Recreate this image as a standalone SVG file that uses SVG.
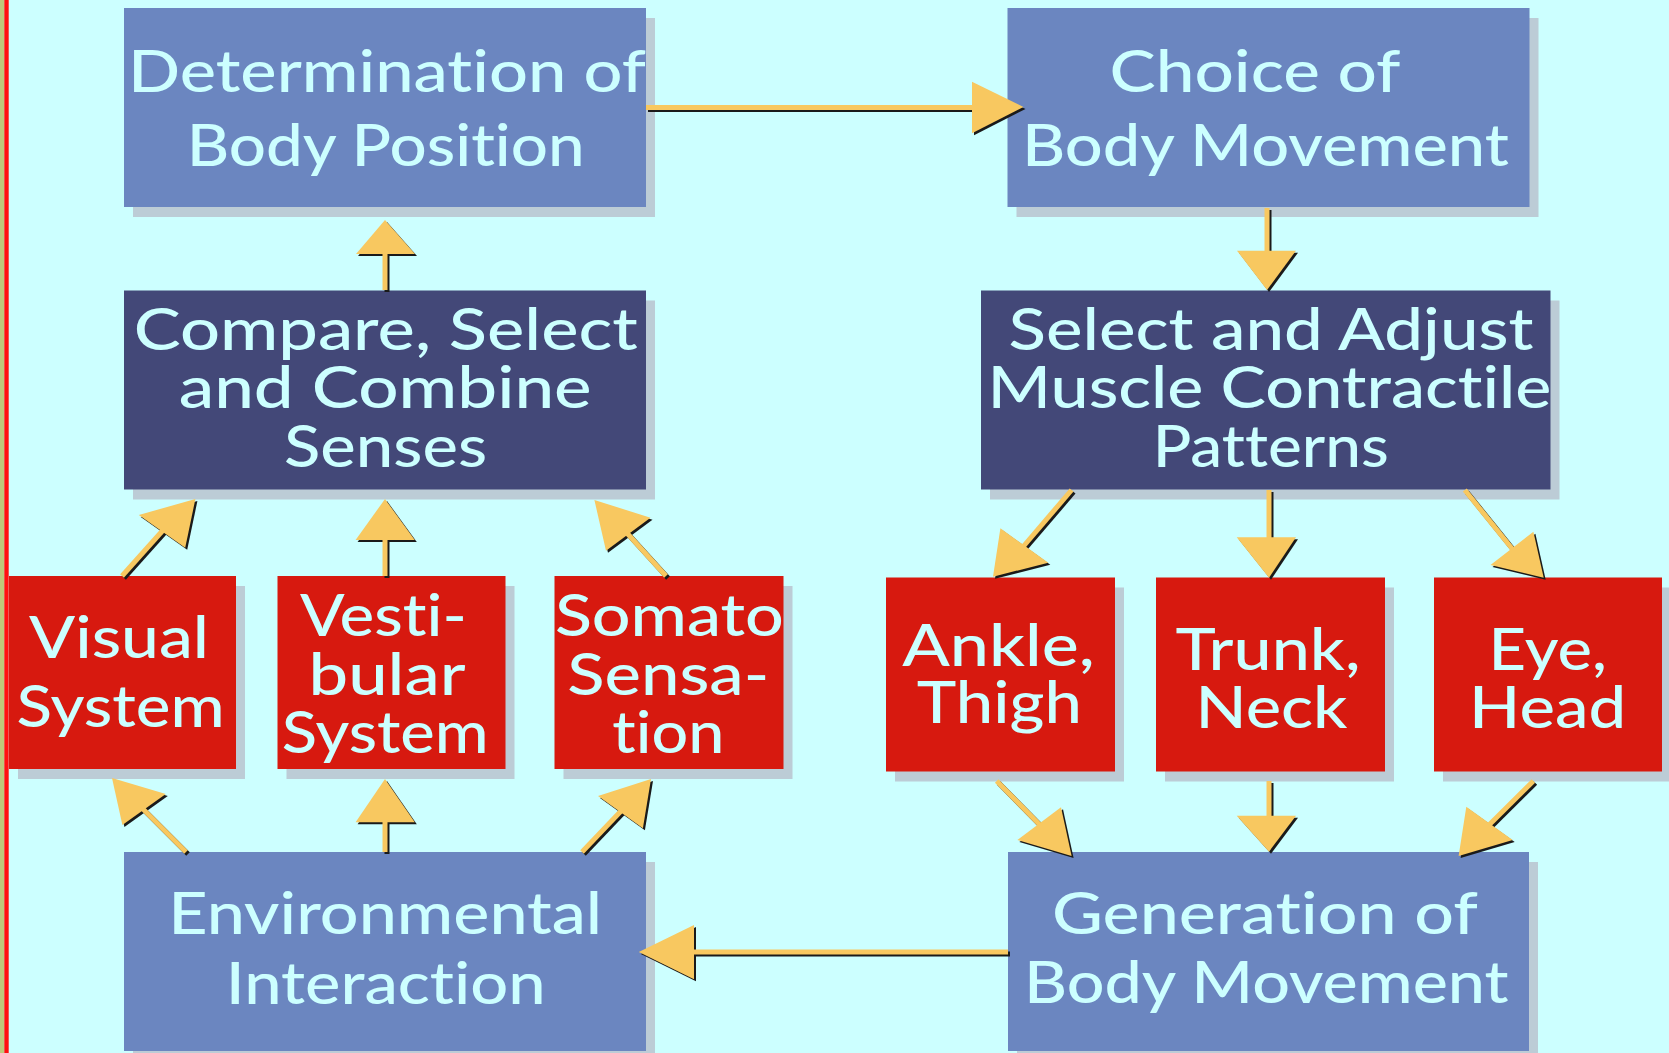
<svg xmlns="http://www.w3.org/2000/svg" xmlns:xlink="http://www.w3.org/1999/xlink" width="1669" height="1053" viewBox="0 0 1669 1053">
<style>
.sh{fill:#BCCCD6}
.blue{fill:#6B86C0}
.navy{fill:#434878}
.red{fill:#D7190F}
text{font-family:Lato,"Liberation Sans",sans-serif;font-size:58px;font-weight:500;fill:#CCFFFF;text-anchor:middle;font-variant-ligatures:none;font-feature-settings:"liga" 0,"clig" 0}
</style>
<defs>
<g id="arrows">
<g stroke="currentColor" stroke-width="5" fill="none">
<line x1="646" y1="107.5" x2="976" y2="107.5"/>
<line x1="385" y1="290" x2="385" y2="250"/>
<line x1="1267" y1="208" x2="1267" y2="254"/>
<line x1="122" y1="576" x2="165" y2="528"/>
<line x1="385" y1="576" x2="385" y2="536"/>
<line x1="666" y1="576" x2="626" y2="532"/>
<line x1="186" y1="852" x2="142" y2="808"/>
<line x1="385" y1="852" x2="385" y2="818"/>
<line x1="582" y1="852" x2="622" y2="810"/>
<line x1="1071.6" y1="490" x2="1022" y2="548"/>
<line x1="1269" y1="490" x2="1269" y2="541"/>
<line x1="1464.8" y1="490" x2="1514" y2="551"/>
<line x1="996.7" y1="781" x2="1041" y2="826"/>
<line x1="1269" y1="781" x2="1269" y2="819"/>
<line x1="1533.4" y1="781" x2="1488" y2="826"/>
<line x1="1008" y1="952" x2="690" y2="952"/>
</g>
<g fill="currentColor">
<polygon points="972,81.7 1023.5,107 972,133.3"/>
<polygon points="356,254 385,220 415,254"/>
<polygon points="1237,250.7 1267,290 1296,250.7"/>
<polygon points="195.4,499 138.8,515 185.2,547.7"/>
<polygon points="355.6,540 385,499 414.8,540"/>
<polygon points="594.4,500 650.5,517.7 606,550.7"/>
<polygon points="112,778 165.8,794 122.4,825"/>
<polygon points="355.6,822.3 385,779 414.8,822.3"/>
<polygon points="651,779 598,796 642.9,828.3"/>
<polygon points="993,576.7 1000.4,528.3 1048.3,562.7"/>
<polygon points="1236.7,537.3 1269,577.7 1296,537.3"/>
<polygon points="1543.7,577.7 1533.4,531.7 1490.5,565"/>
<polygon points="1071.6,856 1061,807.3 1017.4,840"/>
<polygon points="1236.7,815.7 1269,851.7 1296,815.7"/>
<polygon points="1458.6,856 1466.3,806.7 1512.7,840"/>
<polygon points="694,925 638.8,952 694,979.3"/>
</g>
</g>
</defs>
<rect x="0" y="0" width="1669" height="1053" fill="#CCFFFF"/>
<rect x="0" y="0" width="4.3" height="1053" fill="#BFC87A"/>
<rect x="4.3" y="0" width="4.4" height="1053" fill="#FF1010"/>

<g id="node-determination">
<rect class="sh" x="133" y="18" width="522" height="199"/>
<rect class="blue" x="124" y="8" width="522" height="199"/>
<text x="387" y="92" textLength="518" lengthAdjust="spacingAndGlyphs">Determination of</text>
<text x="385.7" y="166" textLength="398" lengthAdjust="spacingAndGlyphs">Body Position</text>
</g>
<g id="node-choice">
<rect class="sh" x="1016.5" y="18" width="522" height="199"/>
<rect class="blue" x="1007.5" y="8" width="522" height="199"/>
<text x="1255" y="92" textLength="291" lengthAdjust="spacingAndGlyphs">Choice of</text>
<text x="1265.4" y="166" textLength="487" lengthAdjust="spacingAndGlyphs">Body Movement</text>
</g>
<g id="node-compare">
<rect class="sh" x="133" y="300.5" width="522" height="199"/>
<rect class="navy" x="124" y="290.5" width="522" height="199"/>
<text x="385.7" y="350" textLength="504" lengthAdjust="spacingAndGlyphs">Compare, Select</text>
<text x="385.2" y="408" textLength="413" lengthAdjust="spacingAndGlyphs">and Combine</text>
<text x="385.5" y="467" textLength="203" lengthAdjust="spacingAndGlyphs">Senses</text>
</g>
<g id="node-select">
<rect class="sh" x="990" y="300.5" width="569.5" height="199"/>
<rect class="navy" x="981" y="290.5" width="569.5" height="199"/>
<text x="1271" y="350" textLength="525" lengthAdjust="spacingAndGlyphs">Select and Adjust</text>
<text x="1269.5" y="408" textLength="564" lengthAdjust="spacingAndGlyphs">Muscle Contractile</text>
<text x="1270.7" y="467" textLength="236" lengthAdjust="spacingAndGlyphs">Patterns</text>
</g>
<g id="node-visual">
<rect class="sh" x="18" y="586" width="227" height="193"/>
<rect class="red" x="9" y="576" width="227" height="193"/>
<text x="119" y="658" textLength="180" lengthAdjust="spacingAndGlyphs">Visual</text>
<text x="120.6" y="727" textLength="208" lengthAdjust="spacingAndGlyphs">System</text>
</g>
<g id="node-vestibular">
<rect class="sh" x="286.5" y="586" width="228" height="193"/>
<rect class="red" x="277.5" y="576" width="228" height="193"/>
<text x="383.4" y="636" textLength="167" lengthAdjust="spacingAndGlyphs">Vesti-</text>
<text x="387" y="695" textLength="157" lengthAdjust="spacingAndGlyphs">bular</text>
<text x="385.2" y="753" textLength="207" lengthAdjust="spacingAndGlyphs">System</text>
</g>
<g id="node-somato">
<rect class="sh" x="563.5" y="586" width="229" height="193"/>
<rect class="red" x="554.5" y="576" width="229" height="193"/>
<text x="669.4" y="636" textLength="229" lengthAdjust="spacingAndGlyphs">Somato</text>
<text x="668.3" y="695" textLength="202" lengthAdjust="spacingAndGlyphs">Sensa-</text>
<text x="668.3" y="753" textLength="112" lengthAdjust="spacingAndGlyphs">tion</text>
</g>
<g id="node-ankle">
<rect class="sh" x="895" y="587.5" width="229" height="194"/>
<rect class="red" x="886" y="577.5" width="229" height="194"/>
<text x="998.5" y="666" textLength="192.5" lengthAdjust="spacingAndGlyphs">Ankle,</text>
<text x="999.3" y="723" textLength="165" lengthAdjust="spacingAndGlyphs">Thigh</text>
</g>
<g id="node-trunk">
<rect class="sh" x="1165" y="587.5" width="229" height="194"/>
<rect class="red" x="1156" y="577.5" width="229" height="194"/>
<text x="1268" y="670" textLength="185" lengthAdjust="spacingAndGlyphs">Trunk,</text>
<text x="1271.5" y="728" textLength="152" lengthAdjust="spacingAndGlyphs">Neck</text>
</g>
<g id="node-eye">
<rect class="sh" x="1443" y="587.5" width="228" height="194"/>
<rect class="red" x="1434" y="577.5" width="228" height="194"/>
<text x="1547.7" y="670" textLength="118.5" lengthAdjust="spacingAndGlyphs">Eye,</text>
<text x="1547.6" y="728" textLength="157" lengthAdjust="spacingAndGlyphs">Head</text>
</g>
<g id="node-environmental">
<rect class="sh" x="133" y="862" width="522" height="199"/>
<rect class="blue" x="124" y="852" width="522" height="199"/>
<text x="385.2" y="934" textLength="434" lengthAdjust="spacingAndGlyphs">Environmental</text>
<text x="385.7" y="1004" textLength="320" lengthAdjust="spacingAndGlyphs">Interaction</text>
</g>
<g id="node-generation">
<rect class="sh" x="1017" y="862" width="521" height="199"/>
<rect class="blue" x="1008" y="852" width="521" height="199"/>
<text x="1265" y="934" textLength="426" lengthAdjust="spacingAndGlyphs">Generation of</text>
<text x="1266.3" y="1003" textLength="484.6" lengthAdjust="spacingAndGlyphs">Body Movement</text>
</g>

<g id="connectors">
<use xlink:href="#arrows" href="#arrows" transform="translate(2,2)" color="#1A1A1A"/>
<use xlink:href="#arrows" href="#arrows" color="#F8C860"/>
</g>
</svg>
